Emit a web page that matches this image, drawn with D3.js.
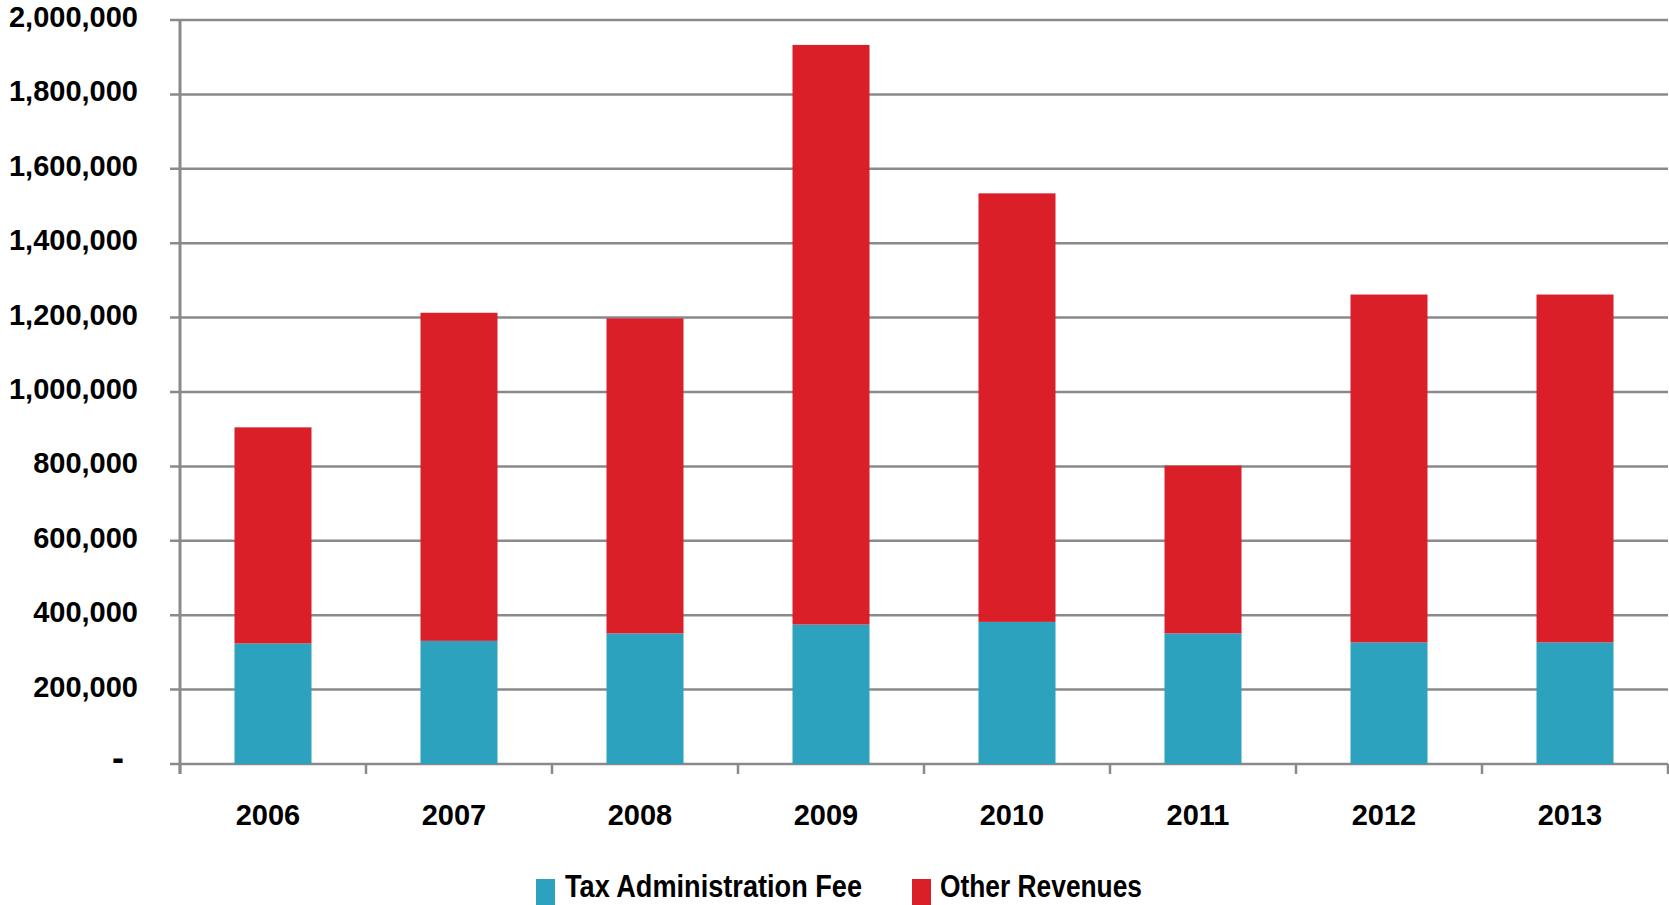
<!DOCTYPE html>
<html>
<head>
<meta charset="utf-8">
<script src="https://cdn.jsdelivr.net/npm/d3@7"></script>
<style>
  html, body { margin: 0; padding: 0; background: #fff; overflow: hidden; }
  svg { display: block; }
  text { font-family: "Liberation Sans", Arial, sans-serif; font-weight: bold; fill: #000; }
</style>
</head>
<body>
<svg id="chart" width="1669" height="905"></svg>
<script>
const years = ["2006", "2007", "2008", "2009", "2010", "2011", "2012", "2013"];
const taxAdminFee = [324000, 331000, 351000, 375000, 382000, 351000, 327000, 327000];
const otherRevenues = [581000, 882000, 847000, 1558000, 1152000, 451000, 935000, 935000];
const yTicks = [0, 200000, 400000, 600000, 800000, 1000000, 1200000, 1400000, 1600000, 1800000, 2000000];
const seriesNames = ["Tax Administration Fee", "Other Revenues"];
const seriesColors = ["#2CA2BF", "#DA1F29"];

(function () {
const svg = d3.select("#chart");
const mLeft = 180, mRight = 1668, mTop = 20, mBottom = 764;
const gridColor = "#8a8a8a";

const x = d3.scaleBand().domain(years).range([mLeft, mRight]).paddingInner(0.586).paddingOuter(0.293);
const y = d3.scaleLinear().domain([0, 2000000]).range([mBottom, mTop]);
const step = x.step();

// gridlines
svg.append("g").selectAll("line").data(yTicks).join("line")
  .attr("x1", mLeft - 10).attr("x2", mRight)
  .attr("y1", d => y(d)).attr("y2", d => y(d))
  .attr("stroke", gridColor).attr("stroke-width", 2.5);

// y labels
const fmt = d3.format(",");
svg.append("g").selectAll("text").data(yTicks).join("text")
  .attr("x", d => d === 0 ? 124 : 138)
  .attr("y", d => d === 0 ? y(d) + 6 : y(d) + 7)
  .attr("text-anchor", "end")
  .attr("font-size", d => d === 0 ? 36 : 29)
  .text(d => d === 0 ? "-" : fmt(d));

// stacked data
const rows = years.map((yr, i) => ({ year: yr, tax: taxAdminFee[i], other: otherRevenues[i] }));
const stack = d3.stack().keys(["tax", "other"]);
const layers = stack(rows);

svg.append("g").selectAll("g").data(layers).join("g")
  .attr("fill", (d, i) => seriesColors[i])
  .selectAll("rect").data(d => d).join("rect")
  .attr("x", d => x(d.data.year))
  .attr("width", x.bandwidth())
  .attr("y", d => y(d[1]))
  .attr("height", d => y(d[0]) - y(d[1]));

// y axis line
svg.append("line")
  .attr("x1", mLeft).attr("x2", mLeft)
  .attr("y1", mTop).attr("y2", mBottom + 10)
  .attr("stroke", gridColor).attr("stroke-width", 3);

// x-axis ticks at band boundaries
const boundaries = d3.range(years.length + 1).map(i => mLeft + i * step);
svg.append("g").selectAll("line").data(boundaries).join("line")
  .attr("x1", d => d).attr("x2", d => d)
  .attr("y1", mBottom).attr("y2", mBottom + 10)
  .attr("stroke", gridColor).attr("stroke-width", 2.5);

// x labels
svg.append("g").selectAll("text").data(years).join("text")
  .attr("x", d => x(d) + x.bandwidth() / 2 - 5)
  .attr("y", 825)
  .attr("text-anchor", "middle")
  .attr("font-size", 29)
  .text(d => d);

// legend
const legendItems = [
  { name: seriesNames[0], color: seriesColors[0], sx: 536, tx: 565, w: 297 },
  { name: seriesNames[1], color: seriesColors[1], sx: 912, tx: 940, w: 202 }
];
const lg = svg.append("g");
legendItems.forEach(it => {
  lg.append("rect").attr("x", it.sx).attr("y", 879).attr("width", 19).attr("height", 26).attr("fill", it.color);
  lg.append("text").attr("x", it.tx).attr("y", 897)
    .attr("font-size", 32)
    .attr("textLength", it.w).attr("lengthAdjust", "spacingAndGlyphs")
    .text(it.name);
});
})();
</script>
</body>
</html>
